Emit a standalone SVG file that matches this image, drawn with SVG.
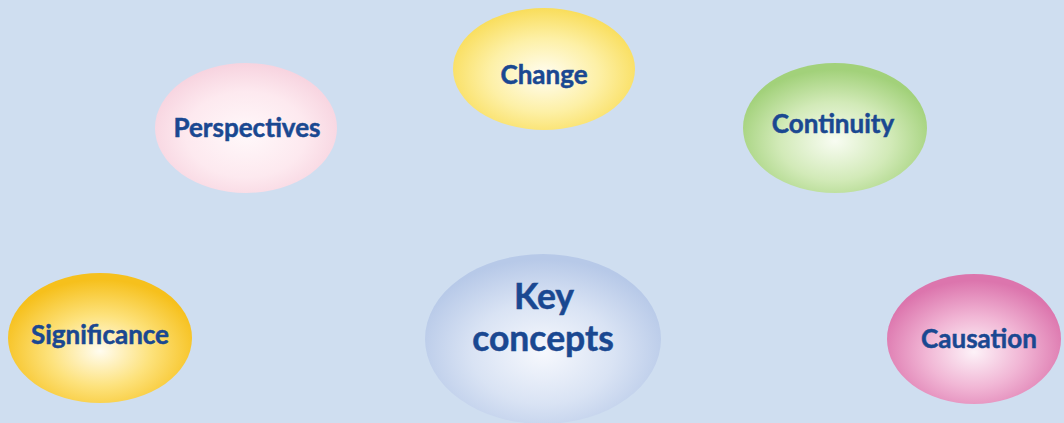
<svg xmlns="http://www.w3.org/2000/svg" width="1064" height="423" viewBox="0 0 1064 423">
<defs>
<style>
.lbl{font-family:Lato,"Open Sans","Liberation Sans",sans-serif;font-weight:bold;fill:#1a4891;stroke:#1a4891;stroke-width:0.5;text-anchor:middle}
.s{font-size:26px}
.k{font-size:35.5px}
</style>
<radialGradient id="gYellow" cx="50%" cy="55%" r="55%"><stop offset="0" stop-color="#fffdf2"/><stop offset="0.55" stop-color="#fdf0a6"/><stop offset="1" stop-color="#f9dd5a"/></radialGradient>
<radialGradient id="gPink" cx="50%" cy="55%" r="55%"><stop offset="0" stop-color="#fff8fa"/><stop offset="0.6" stop-color="#fde9ef"/><stop offset="1" stop-color="#f7d3df"/></radialGradient>
<radialGradient id="gGreen" cx="50%" cy="60%" r="55%"><stop offset="0" stop-color="#f8fcf2"/><stop offset="0.55" stop-color="#d2eab8"/><stop offset="1" stop-color="#a2d17a"/></radialGradient>
<radialGradient id="gGold" cx="50%" cy="60%" r="55%"><stop offset="0" stop-color="#fffcf0"/><stop offset="0.5" stop-color="#fde27c"/><stop offset="1" stop-color="#f6c01c"/></radialGradient>
<radialGradient id="gBlue" cx="50%" cy="58%" r="55%"><stop offset="0" stop-color="#f6f8fd"/><stop offset="0.55" stop-color="#d9e3f4"/><stop offset="1" stop-color="#b7c9e8"/></radialGradient>
<radialGradient id="gMagenta" cx="50%" cy="60%" r="55%"><stop offset="0" stop-color="#fdf2f8"/><stop offset="0.5" stop-color="#f1b6d5"/><stop offset="1" stop-color="#dc75ad"/></radialGradient>
</defs>
<rect width="1064" height="423" fill="#cfdef0"/>
<g id="connectors"></g>
<g id="change"><ellipse cx="544" cy="69" rx="91" ry="61" fill="url(#gYellow)"/><text class="lbl s" x="544" y="84">Change</text></g>
<g id="perspectives"><ellipse cx="246" cy="128" rx="91" ry="65" fill="url(#gPink)"/><text class="lbl s" x="247" y="137">Perspectives</text></g>
<g id="continuity"><ellipse cx="835" cy="128" rx="92" ry="65" fill="url(#gGreen)"/><text class="lbl s" x="833" y="133">Continuity</text></g>
<g id="significance"><ellipse cx="100" cy="338" rx="92" ry="65" fill="url(#gGold)"/><text class="lbl s" x="100" y="344">Significance</text></g>
<g id="key-concepts"><ellipse cx="543" cy="339" rx="118" ry="85" fill="url(#gBlue)"/><text class="lbl k" x="544" y="309">Key</text><text class="lbl k" x="543" y="351">concepts</text></g>
<g id="causation"><ellipse cx="974" cy="339" rx="87" ry="65" fill="url(#gMagenta)"/><text class="lbl s" x="979" y="348">Causation</text></g>
</svg>
